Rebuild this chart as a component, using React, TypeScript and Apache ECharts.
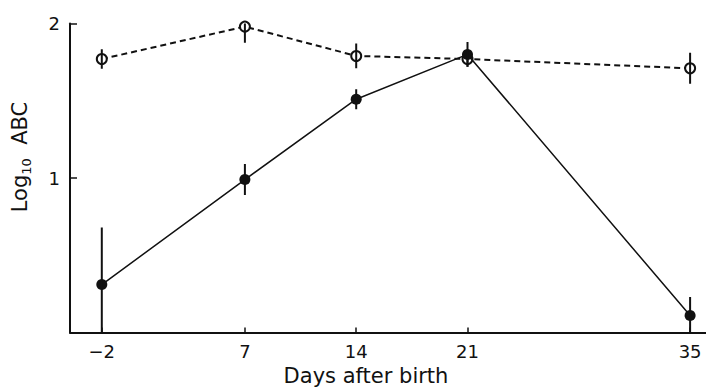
import React, { useEffect, useRef } from "react";
import * as echarts from "echarts";

const days = [-2, 7, 14, 21, 35];
const openMean = [1.77, 1.98, 1.79, 1.77, 1.71];
const openErr = [0.063, 0.105, 0.08, 0.05, 0.1];
const filledMean = [0.31, 0.99, 1.51, 1.8, 0.11];
const filledErr = [0.37, 0.1, 0.065, 0.08, 0.12];
const xTickLabels = [-2, 7, 14, 21, 35];
const yTickLabels = [1, 2];

const INK = "#111";
const FONT = "DejaVu Sans";

function errorSeries(means: number[], errs: number[], z: number) {
  return {
    type: "custom",
    z,
    clip: true,
    silent: true,
    data: days.map((d, i) => [d, means[i] - errs[i], means[i] + errs[i]]),
    renderItem: (_p: any, api: any) => {
      const lo = api.coord([api.value(0), api.value(1)]);
      const hi = api.coord([api.value(0), api.value(2)]);
      return {
        type: "line",
        shape: { x1: lo[0], y1: lo[1], x2: hi[0], y2: hi[1] },
        style: { stroke: INK, lineWidth: 2 },
      };
    },
  };
}

export default function App() {
  const ref = useRef<HTMLDivElement>(null);
  useEffect(() => {
    if (!ref.current) return;
    const chart = echarts.init(ref.current, null, { renderer: "svg" });
    chart.setOption({
      animation: false,
      backgroundColor: "#fff",
      grid: { left: 70, top: 23.5, width: 638, height: 309, containLabel: false },
      xAxis: {
        type: "value",
        min: -4,
        max: 36,
        splitLine: { show: false },
        axisLine: { show: true, onZero: false, lineStyle: { color: INK, width: 2 } },
        axisTick: {
          show: true,
          inside: true,
          length: 5,
          customValues: xTickLabels,
          lineStyle: { color: INK, width: 1.5 },
        },
        axisLabel: {
          customValues: xTickLabels,
          color: INK,
          fontFamily: FONT,
          fontSize: 18,
          margin: 10,
          formatter: (v: number) => (v < 0 ? "\u2212" + Math.abs(v) : String(v)),
        },
      },
      yAxis: {
        type: "value",
        min: 0,
        max: 2,
        splitLine: { show: false },
        axisLine: { show: true, onZero: false, lineStyle: { color: INK, width: 2 } },
        axisTick: {
          show: true,
          inside: true,
          length: 7,
          customValues: yTickLabels,
          lineStyle: { color: INK, width: 1.5 },
        },
        axisLabel: {
          customValues: yTickLabels,
          color: INK,
          fontFamily: FONT,
          fontSize: 18,
          margin: 10,
        },
      },
      graphic: [
        {
          type: "text",
          x: 366,
          y: 376,
          style: {
            text: "Days after birth",
            fill: INK,
            font: `21px "${FONT}"`,
            textAlign: "center",
            textVerticalAlign: "middle",
          },
        },
        {
          type: "text",
          x: 20,
          y: 157,
          rotation: Math.PI / 2,
          style: {
            text: "Log{sub|10}  ABC",
            fill: INK,
            font: `21px "${FONT}"`,
            textAlign: "center",
            textVerticalAlign: "middle",
            rich: {
              sub: { fontSize: 13, fontFamily: FONT, fill: INK, padding: [12, 0, 0, 0] },
            },
          },
        },
      ],
      series: [
        {
          type: "line",
          data: days.map((d, i) => [d, openMean[i]]),
          symbol: "circle",
          symbolSize: 10,
          z: 3,
          lineStyle: { color: INK, width: 2, type: [6, 4] },
          itemStyle: { color: "#fff", borderColor: INK, borderWidth: 2 },
        },
        {
          type: "line",
          data: days.map((d, i) => [d, filledMean[i]]),
          symbol: "circle",
          symbolSize: 11,
          z: 4,
          lineStyle: { color: INK, width: 1.5 },
          itemStyle: { color: INK, borderColor: INK, borderWidth: 0 },
        },
        errorSeries(openMean, openErr, 5),
        errorSeries(filledMean, filledErr, 5),
      ],
    });
    return () => chart.dispose();
  }, []);
  return (
    <div
      ref={ref}
      style={{ position: "fixed", left: 0, top: 0, width: 706, height: 387 }}
    />
  );
}
